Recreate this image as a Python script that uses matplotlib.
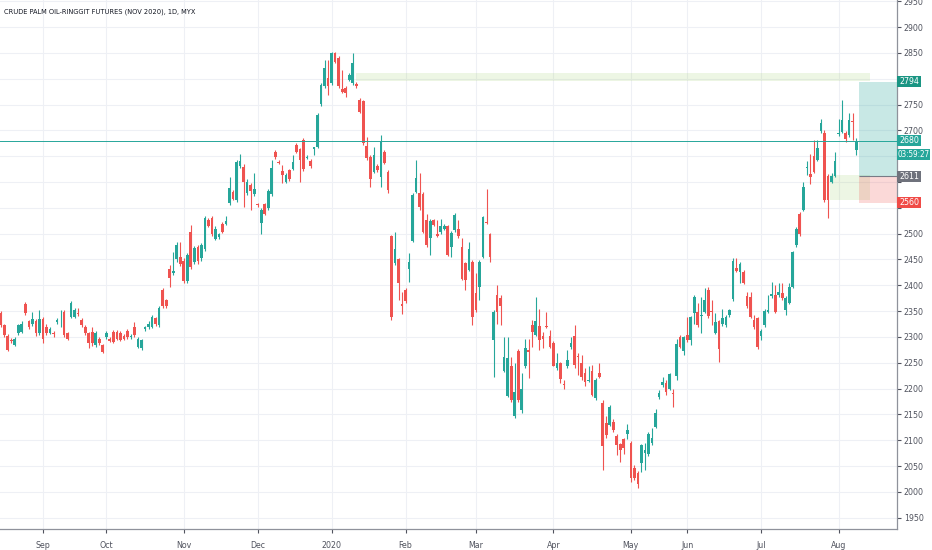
import matplotlib
matplotlib.use("Agg")
import matplotlib.pyplot as plt
from matplotlib.patches import Rectangle
from matplotlib.transforms import blended_transform_factory

# daily candles, Aug 2019 .. Aug 2020
opens = [
    2346, 2323, 2302, 2294, 2284, 2307, 2310, 2364, 2330, 2326,
    2330, 2307, 2334, 2320, 2308, 2307, 2328, 2332, 2348, 2307,
    2339, 2339, 2347, 2332, 2320, 2307, 2310, 2284, 2297, 2284,
    2299, 2296, 2310, 2310, 2308, 2302, 2312, 2300, 2320, 2281,
    2278, 2315, 2319, 2320, 2336, 2323, 2390, 2371,
    2431, 2424, 2450, 2454, 2448, 2409, 2504, 2446, 2475, 2452,
    2470, 2526, 2530, 2490, 2494, 2519, 2519, 2560, 2581, 2565,
    2631, 2630, 2578, 2594, 2577, 2557, 2521, 2557, 2549, 2577,
    2659, 2639, 2622, 2601, 2623, 2626, 2672, 2663, 2681, 2646,
    2641, 2663, 2668, 2751, 2785, 2801, 2791, 2849, 2841, 2781,
    2783, 2798, 2791, 2790, 2759, 2756, 2670, 2649, 2620, 2631,
    2610, 2659, 2620, 2495, 2443, 2450, 2364, 2390, 2431, 2486,
    2581, 2579, 2577, 2526, 2491, 2526, 2499, 2504, 2510, 2514,
    2475, 2507, 2510, 2475, 2443, 2430, 2446, 2386, 2397, 2455,
    2523, 2499, 2294, 2381, 2375, 2235, 2186, 2243, 2147, 2273,
    2159, 2243, 2275, 2323, 2304, 2321, 2301, 2321, 2302, 2289,
    2239, 2249, 2209, 2243, 2280, 2302, 2263, 2250, 2230, 2215,
    2235, 2181, 2230, 2173, 2134, 2130, 2136, 2109, 2092, 2102,
    2113, 2095, 2046, 2037, 2055, 2075, 2073, 2094, 2126, 2184,
    2207, 2211, 2200, 2192, 2224, 2299, 2273, 2304, 2294, 2347,
    2349, 2341, 2349, 2390, 2350, 2308, 2330, 2325, 2323, 2342,
    2373, 2433, 2426, 2426, 2379, 2378, 2332, 2336, 2302, 2323,
    2349, 2379, 2381, 2381, 2386, 2352, 2366, 2397, 2478, 2538,
    2546, 2627, 2616, 2650, 2643, 2698, 2694, 2612, 2601, 2612,
    2693, 2697, 2694, 2691, 2719, 2662,
]
highs = [
    2350, 2326, 2305, 2298, 2300, 2326, 2330, 2368, 2333, 2349,
    2335, 2352, 2338, 2325, 2320, 2312, 2336, 2352, 2352, 2310,
    2370, 2356, 2356, 2336, 2323, 2310, 2320, 2312, 2300, 2287,
    2312, 2300, 2314, 2314, 2312, 2306, 2316, 2306, 2328, 2300,
    2297, 2322, 2330, 2342, 2339, 2360, 2394, 2374,
    2439, 2465, 2484, 2484, 2452, 2462, 2517, 2476, 2478, 2481,
    2534, 2530, 2534, 2514, 2502, 2523, 2534, 2610, 2585, 2643,
    2655, 2634, 2605, 2598, 2617, 2560, 2549, 2560, 2586, 2642,
    2662, 2642, 2633, 2617, 2626, 2652, 2675, 2666, 2685, 2653,
    2644, 2668, 2733, 2791, 2836, 2836, 2852, 2852, 2845, 2817,
    2786, 2812, 2849, 2793, 2762, 2759, 2688, 2652, 2668, 2634,
    2691, 2662, 2623, 2498, 2504, 2453, 2388, 2394, 2463, 2578,
    2643, 2617, 2580, 2539, 2529, 2529, 2526, 2528, 2518, 2517,
    2505, 2540, 2526, 2491, 2446, 2483, 2449, 2423, 2449, 2535,
    2586, 2502, 2352, 2401, 2381, 2300, 2300, 2262, 2249, 2276,
    2230, 2297, 2297, 2333, 2378, 2355, 2310, 2349, 2313, 2292,
    2268, 2252, 2216, 2275, 2300, 2323, 2268, 2265, 2239, 2244,
    2246, 2220, 2249, 2178, 2146, 2168, 2142, 2112, 2095, 2105,
    2131, 2098, 2052, 2040, 2093, 2094, 2115, 2123, 2160, 2197,
    2222, 2217, 2231, 2200, 2297, 2304, 2302, 2339, 2341, 2382,
    2365, 2378, 2394, 2397, 2372, 2346, 2333, 2355, 2342, 2355,
    2452, 2452, 2446, 2429, 2388, 2388, 2343, 2339, 2315, 2354,
    2381, 2407, 2401, 2404, 2404, 2380, 2404, 2467, 2513, 2542,
    2601, 2641, 2654, 2682, 2681, 2723, 2701, 2616, 2617, 2659,
    2723, 2759, 2698, 2733, 2733, 2686,
]
lows = [
    2320, 2300, 2272, 2288, 2282, 2304, 2308, 2343, 2316, 2322,
    2302, 2304, 2288, 2303, 2305, 2300, 2325, 2320, 2300, 2294,
    2336, 2336, 2340, 2320, 2304, 2278, 2282, 2280, 2284, 2268,
    2296, 2290, 2288, 2294, 2292, 2294, 2296, 2297, 2300, 2278,
    2274, 2312, 2316, 2317, 2322, 2320, 2356, 2356,
    2397, 2420, 2446, 2438, 2405, 2405, 2432, 2442, 2441, 2448,
    2466, 2512, 2496, 2487, 2490, 2501, 2516, 2556, 2565, 2561,
    2628, 2552, 2574, 2546, 2573, 2552, 2500, 2536, 2545, 2572,
    2645, 2634, 2599, 2598, 2602, 2623, 2656, 2601, 2622, 2645,
    2628, 2652, 2665, 2748, 2782, 2768, 2788, 2830, 2782, 2772,
    2765, 2795, 2788, 2783, 2733, 2672, 2643, 2591, 2617, 2620,
    2591, 2634, 2578, 2333, 2440, 2371, 2345, 2365, 2407, 2483,
    2578, 2546, 2501, 2475, 2459, 2514, 2494, 2500, 2507, 2456,
    2455, 2504, 2492, 2410, 2391, 2427, 2323, 2349, 2371, 2452,
    2518, 2446, 2223, 2326, 2323, 2232, 2183, 2175, 2144, 2175,
    2152, 2240, 2220, 2281, 2301, 2275, 2278, 2317, 2278, 2243,
    2236, 2210, 2200, 2240, 2277, 2239, 2226, 2217, 2205, 2212,
    2185, 2178, 2220, 2042, 2105, 2127, 2116, 2071, 2058, 2074,
    2103, 2020, 2023, 2007, 2039, 2042, 2070, 2091, 2123, 2179,
    2204, 2187, 2197, 2165, 2217, 2278, 2265, 2291, 2284, 2326,
    2320, 2307, 2346, 2337, 2323, 2305, 2252, 2322, 2320, 2339,
    2370, 2425, 2405, 2402, 2356, 2336, 2316, 2276, 2294, 2320,
    2346, 2376, 2346, 2378, 2372, 2342, 2363, 2394, 2475, 2495,
    2543, 2614, 2597, 2617, 2640, 2695, 2562, 2530, 2598, 2609,
    2690, 2694, 2678, 2688, 2681, 2652,
]
closes = [
    2323, 2304, 2275, 2292, 2297, 2323, 2326, 2346, 2320, 2334,
    2307, 2334, 2297, 2307, 2315, 2306, 2332, 2333, 2304, 2297,
    2365, 2352, 2344, 2323, 2307, 2288, 2288, 2308, 2288, 2271,
    2307, 2293, 2291, 2297, 2295, 2297, 2300, 2302, 2304, 2297,
    2294, 2319, 2326, 2338, 2326, 2357, 2359, 2359,
    2415, 2428, 2479, 2441, 2409, 2459, 2436, 2472, 2448, 2478,
    2530, 2515, 2499, 2510, 2499, 2504, 2525, 2588, 2568, 2639,
    2641, 2601, 2601, 2583, 2586, 2555, 2546, 2539, 2583, 2628,
    2648, 2637, 2614, 2614, 2605, 2639, 2659, 2643, 2626, 2649,
    2631, 2667, 2730, 2788, 2820, 2785, 2850, 2833, 2785, 2775,
    2772, 2807, 2830, 2786, 2736, 2675, 2646, 2605, 2652, 2623,
    2680, 2637, 2585, 2338, 2470, 2405, 2360, 2370, 2446, 2575,
    2607, 2552, 2504, 2478, 2525, 2517, 2495, 2514, 2515, 2459,
    2501, 2536, 2495, 2413, 2410, 2470, 2339, 2352, 2446, 2532,
    2520, 2455, 2349, 2349, 2359, 2262, 2259, 2178, 2194, 2178,
    2200, 2278, 2271, 2310, 2330, 2295, 2296, 2319, 2281, 2244,
    2250, 2218, 2206, 2255, 2289, 2246, 2261, 2222, 2212, 2217,
    2188, 2217, 2223, 2088, 2110, 2164, 2120, 2091, 2082, 2084,
    2120, 2026, 2026, 2015, 2091, 2082, 2112, 2104, 2152, 2192,
    2213, 2194, 2228, 2189, 2286, 2281, 2299, 2294, 2338, 2378,
    2323, 2342, 2372, 2340, 2348, 2328, 2276, 2336, 2339, 2352,
    2448, 2428, 2441, 2405, 2359, 2339, 2319, 2280, 2312, 2351,
    2352, 2383, 2349, 2388, 2375, 2375, 2397, 2465, 2510, 2499,
    2590, 2630, 2609, 2620, 2665, 2714, 2565, 2566, 2612, 2641,
    2695, 2721, 2683, 2721, 2716, 2680,
]

# first bar of each month (bar index) and its label
month_idx = [12, 30, 52, 73, 94, 115, 135, 157, 179, 195, 216, 238]
month_labels = ["Sep", "Oct", "Nov", "Dec", "2020", "Feb", "Mar", "Apr",
                "May", "Jun", "Jul", "Aug"]

price_ticks = list(range(1950, 2951, 50))
hidden_ticks = [2800, 2650, 2600, 2550]  # covered by the price-scale boxes

last_price = 2680
countdown = "03:59:27"
target, entry, stop = 2794, 2611, 2560
# drawn supply/demand zones: (start bar, end bar, low, high)
zones = [(101, 247, 2795, 2811), (235.6, 247, 2565, 2613)]
pos_start = 243.8

UP = "#26a69a"
DOWN = "#ef5350"
TXT = "#50535e"
plt.rcParams["font.family"] = ["DejaVu Sans"]
plt.rcParams["font.stretch"] = "condensed"

fig = plt.figure(figsize=(9.32, 5.5), dpi=100)
ax = fig.add_axes([0, 21 / 550, 897 / 932, 529 / 550])
ax.set_xlim(-0.2, 254.6)
ax.set_ylim(1928.1, 2952.5)

# grid
ax.set_yticks(price_ticks)
ax.set_yticklabels(["" if p in hidden_ticks else str(p) for p in price_ticks])
ax.set_xticks(month_idx)
ax.set_xticklabels(month_labels)
ax.grid(True, color="#eef0f5", linewidth=0.8)
ax.set_axisbelow(True)

for s in ["top", "left"]:
    ax.spines[s].set_visible(False)
for s in ["right", "bottom"]:
    ax.spines[s].set_color("#8f929b")
    ax.spines[s].set_linewidth(0.9)
ax.yaxis.tick_right()
ax.tick_params(axis="y", length=3, pad=2, labelsize=6.3, colors=TXT)
ax.tick_params(axis="x", length=3, pad=6, labelsize=6.3, colors=TXT)
for t in ax.get_xticklines() + ax.get_yticklines():
    t.set_color("#8f929b")

# zones and long position tool
for x0, x1, lo, hi in zones:
    ax.add_patch(Rectangle((x0, lo), x1 - x0, hi - lo, facecolor="#8bc34a",
                           alpha=0.15, edgecolor="none", zorder=1))
ax.add_patch(Rectangle((pos_start, entry), 254.6 - pos_start, target - entry,
                       facecolor=UP, alpha=0.25, edgecolor="none", zorder=1))
ax.add_patch(Rectangle((pos_start, stop), 254.6 - pos_start, entry - stop,
                       facecolor=DOWN, alpha=0.22, edgecolor="none", zorder=1))
ax.hlines(entry, pos_start, 254.6, color="#787b86", linewidth=0.8, zorder=2)

# candles
for i in range(len(opens)):
    o, h, l, c = opens[i], highs[i], lows[i], closes[i]
    col = UP if c >= o else DOWN
    ax.vlines(i, l, h, color=col, linewidth=0.8, zorder=3)
    ax.bar(i, max(abs(c - o), 1.6), bottom=min(o, c), width=0.76,
           color=col, linewidth=0, zorder=3)

ax.axhline(last_price, color=UP, linewidth=0.7, zorder=4)

# price scale labels
tr = blended_transform_factory(ax.transAxes, ax.transData)
bw = 24 / 897
bh = 11 / 0.5164


def price_box(y, text, color, width=bw, size=6.3):
    ax.add_patch(Rectangle((1.0, y - bh / 2), width, bh, transform=tr,
                           facecolor=color, edgecolor="none", clip_on=False,
                           zorder=6))
    ax.text(1.0 + width / 2, y, text, transform=tr, ha="center", va="center",
            color="white", fontsize=size, zorder=7, clip_on=False)


price_box(target, str(target), "#1a9583")
price_box(last_price, str(last_price), UP)
price_box(last_price - 13.5 / 0.5164, countdown, UP, width=33 / 897, size=5.8)
price_box(entry, str(entry), "#6f727c")
price_box(stop, str(stop), "#f04b47")

fig.text(4 / 932, 1 - 12 / 550, "CRUDE PALM OIL-RINGGIT FUTURES (NOV 2020), 1D, MYX",
         fontsize=5.3, color="#131722", va="center", ha="left")

fig.savefig("out.png", dpi=100, facecolor="white")
